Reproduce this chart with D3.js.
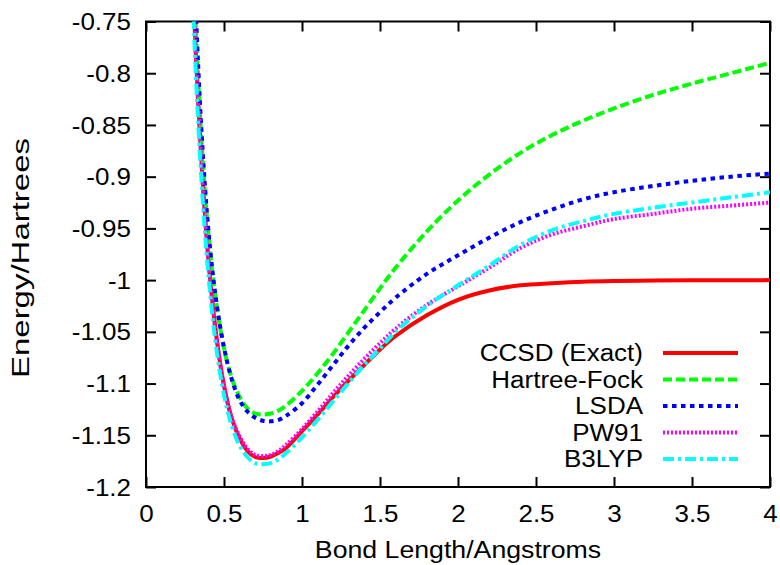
<!DOCTYPE html>
<html>
<head>
<meta charset="utf-8">
<script src="https://cdn.jsdelivr.net/npm/d3@7"></script>
<style>
  html, body { margin: 0; padding: 0; background: #fff; }
  svg text { font-family: "Liberation Sans", Arial, sans-serif; font-size: 23px; fill: #000; }
</style>
</head>
<body>
<div id="chart"></div>
<script>
// bond length grid (Angstroms) shared by every series
const bondLength = [0.25, 0.3, 0.35, 0.4, 0.45, 0.5, 0.55, 0.6, 0.65, 0.7,
  0.75, 0.8, 0.85, 0.9, 1.0, 1.1, 1.2, 1.3, 1.4, 1.5,
  1.6, 1.8, 2.0, 2.2, 2.4, 2.6, 2.8, 3.0, 3.25, 3.5, 3.75, 4.0];

// energies (Hartrees)
const ccsd = [-0.45, -0.71, -0.87, -0.98, -1.053, -1.102, -1.134, -1.153, -1.165, -1.171,
  -1.172, -1.1705, -1.167, -1.162, -1.146, -1.130, -1.113, -1.097, -1.082, -1.067,
  -1.054, -1.034, -1.019, -1.010, -1.005, -1.003, -1.0015, -1.0008, -1.0004, -1.0002, -1.0001, -1.0];
const hartreeFock = [-0.42, -0.68, -0.85, -0.955, -1.022, -1.066, -1.095, -1.113, -1.124, -1.129,
  -1.130, -1.129, -1.126, -1.121, -1.107, -1.090, -1.071, -1.050, -1.029, -1.008,
  -0.988, -0.953, -0.923, -0.898, -0.877, -0.860, -0.846, -0.834, -0.821, -0.810, -0.800, -0.790];
const lsda = [-0.40, -0.66, -0.84, -0.952, -1.020, -1.065, -1.096, -1.116, -1.127, -1.133,
  -1.136, -1.1365, -1.135, -1.131, -1.119, -1.101, -1.082, -1.063, -1.046, -1.031,
  -1.017, -0.994, -0.976, -0.959, -0.944, -0.932, -0.922, -0.915, -0.909, -0.904, -0.900, -0.897];
const pw91 = [-0.45, -0.71, -0.872, -0.982, -1.054, -1.102, -1.133, -1.151, -1.163, -1.169,
  -1.170, -1.169, -1.165, -1.159, -1.144, -1.127, -1.109, -1.092, -1.076, -1.061,
  -1.047, -1.024, -1.006, -0.988, -0.969, -0.956, -0.948, -0.941, -0.936, -0.931, -0.928, -0.925];
const b3lyp = [-0.47, -0.73, -0.89, -0.995, -1.065, -1.111, -1.141, -1.160, -1.171, -1.177,
  -1.178, -1.177, -1.173, -1.167, -1.152, -1.135, -1.117, -1.099, -1.082, -1.066,
  -1.050, -1.025, -1.005, -0.986, -0.966, -0.952, -0.943, -0.936, -0.930, -0.925, -0.920, -0.915];

const seriesNames = ["CCSD (Exact)", "Hartree-Fock", "LSDA", "PW91", "B3LYP"];

const xTicks = [0, 0.5, 1, 1.5, 2, 2.5, 3, 3.5, 4];
const xTickLabels = ["0", "0.5", "1", "1.5", "2", "2.5", "3", "3.5", "4"];
const yTicks = [-0.75, -0.8, -0.85, -0.9, -0.95, -1, -1.05, -1.1, -1.15, -1.2];
const yTickLabels = ["-0.75", "-0.8", "-0.85", "-0.9", "-0.95", "-1", "-1.05", "-1.1", "-1.15", "-1.2"];

{
  const totalWidth = 780;
  const totalHeight = 565;
  const margin = { top: 21.5, left: 146, bottom: 78, right: 10 };
  const width = totalWidth - margin.left - margin.right;
  const height = totalHeight - margin.top - margin.bottom;

  // gnuplot default line types
  const styles = [
    { color: "#ff0000", dash: null },
    { color: "#00ff00", dash: "9,4" },
    { color: "#0000ff", dash: "4.5,4.5" },
    { color: "#ff00ff", dash: "2,2" },
    { color: "#00ffff", dash: "11,4,3,4" }
  ];
  const values = [ccsd, hartreeFock, lsda, pw91, b3lyp];

  const svg = d3.select("#chart")
    .append("svg")
    .attr("width", totalWidth)
    .attr("height", totalHeight);

  const g = svg.append("g")
    .attr("transform", `translate(${margin.left}, ${margin.top})`);

  const xScale = d3.scaleLinear().domain([0, 4]).range([0, width]);
  const yScale = d3.scaleLinear().domain([-1.2, -0.75]).range([height, 0]);

  // clip the curves to the plot box
  g.append("clipPath").attr("id", "plot-clip")
    .append("rect")
    .attr("width", width)
    .attr("height", height);

  // ticks on all four sides, pointing inwards
  const tickLen = 10;
  g.append("g")
    .attr("transform", `translate(0, ${height})`)
    .call(d3.axisBottom(xScale).tickValues(xTicks).tickSizeInner(-tickLen).tickSizeOuter(0)
      .tickFormat((d, i) => xTickLabels[i]))
    .call(ax => ax.selectAll("text").attr("dy", null).attr("y", 34.5))
    .call(ax => ax.select(".domain").remove());
  g.append("g")
    .call(d3.axisTop(xScale).tickValues(xTicks).tickSizeInner(-tickLen).tickSizeOuter(0).tickFormat(""))
    .call(ax => ax.select(".domain").remove());
  g.append("g")
    .call(d3.axisLeft(yScale).tickValues(yTicks).tickSizeInner(-tickLen).tickSizeOuter(0)
      .tickFormat((d, i) => yTickLabels[i]))
    .call(ax => ax.selectAll("text").attr("x", -15).attr("dy", "0.35em"))
    .call(ax => ax.select(".domain").remove());
  g.append("g")
    .attr("transform", `translate(${width}, 0)`)
    .call(d3.axisRight(yScale).tickValues(yTicks).tickSizeInner(-tickLen).tickSizeOuter(0).tickFormat(""))
    .call(ax => ax.select(".domain").remove());

  g.selectAll(".tick line").attr("stroke", "#000").attr("stroke-width", 2);
  g.selectAll(".tick text").attr("font-size", null).attr("font-family", null);

  // frame
  g.append("rect")
    .attr("width", width)
    .attr("height", height)
    .attr("fill", "none")
    .attr("stroke", "#000")
    .attr("stroke-width", 2);

  // curves
  const line = d3.line()
    .x(d => xScale(d[0]))
    .y(d => yScale(d[1]))
    .curve(d3.curveCatmullRom.alpha(0.5));

  const curves = g.append("g").attr("clip-path", "url(#plot-clip)");
  values.forEach((vals, i) => {
    curves.append("path")
      .datum(bondLength.map((r, j) => [r, vals[j]]))
      .attr("d", line)
      .attr("fill", "none")
      .attr("stroke", styles[i].color)
      .attr("stroke-width", 4)
      .attr("stroke-dasharray", styles[i].dash);
  });

  // legend
  const legend = svg.append("g");
  seriesNames.forEach((name, i) => {
    const y = 353 + i * 26.5;
    legend.append("text")
      .attr("x", 643)
      .attr("y", y)
      .attr("dy", "0.35em")
      .attr("text-anchor", "end")
      .text(name);
    legend.append("line")
      .attr("x1", 663)
      .attr("x2", 738)
      .attr("y1", y)
      .attr("y2", y)
      .attr("stroke", styles[i].color)
      .attr("stroke-width", 4)
      .attr("stroke-dasharray", styles[i].dash);
  });

  // axis titles
  svg.append("text")
    .attr("x", margin.left + width / 2)
    .attr("y", 558)
    .attr("text-anchor", "middle")
    .attr("class", "wide")
    .text("Bond Length/Angstroms");
  const yTitle = svg.append("text")
    .attr("transform", `translate(29, 258) rotate(-90)`)
    .attr("text-anchor", "middle")
    .text("Energy/Hartrees");

  // the reference font renders a bit wider than Liberation Sans
  svg.selectAll("text").each(function() {
    const w = this.getComputedTextLength();
    const k = this.classList.contains("wide") ? 1.16 : 1.13;
    if (w > 0) {
      d3.select(this)
        .attr("textLength", w * k)
        .attr("lengthAdjust", "spacingAndGlyphs");
    }
  });
  yTitle.attr("textLength", 240);
}
</script>
</body>
</html>
